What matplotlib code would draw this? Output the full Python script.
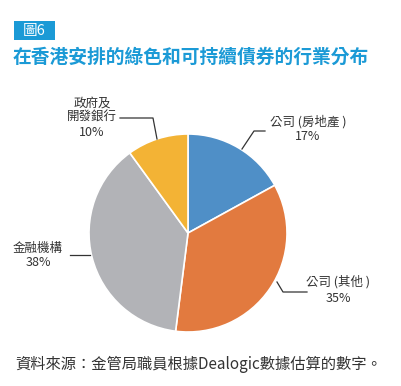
import matplotlib
matplotlib.use("Agg")
import matplotlib.pyplot as plt
from matplotlib.patches import Rectangle

plt.rcParams['font.family'] = ['Noto Sans CJK TC', 'DejaVu Sans']

categories = ["公司 (房地產 )", "公司 (其他 )", "金融機構", "政府及\n開發銀行"]
values = [17, 35, 38, 10]
colors = ["#4f8fc7", "#e27a3f", "#b2b3b7", "#f3b335"]

W, H = 401, 386
fig = plt.figure(figsize=(W / 100, H / 100), dpi=100)

# pie axes: center (188,233), radius 99 px
cx, cy, r = 188, 233, 99
ax = fig.add_axes([(cx - r) / W, (H - cy - r) / H, 2 * r / W, 2 * r / H])
ax.pie(values, colors=colors, startangle=90, counterclock=False,
       wedgeprops=dict(edgecolor="white", linewidth=1.2), radius=1)
ax.set_xlim(-1, 1)
ax.set_ylim(-1, 1)
ax.set_aspect("equal")
ax.axis("off")

# overlay in pixel coordinates
ov = fig.add_axes([0, 0, 1, 1], zorder=5)
ov.set_xlim(0, W)
ov.set_ylim(H, 0)
ov.axis("off")
ov.patch.set_alpha(0)

blue = "#1b9ad6"
ov.add_patch(Rectangle((14, 21), 41, 19, color=blue, lw=0))
ov.text(34.5, 30.5, "圖6", color="white", fontsize=10.5, ha="center", va="center")
ov.text(13, 57, "在香港安排的綠色和可持續債券的行業分布", color=blue,
        fontsize=13.5, fontweight="bold", ha="left", va="center")

lab_color = "#333333"
line_kw = dict(color="#333333", lw=0.9)
fs = 9.0

# 公司(房地產)
ov.plot([242, 254, 265], [149, 131, 131], **line_kw)
ov.text(308, 122, categories[0], fontsize=fs, ha="center", va="center", color=lab_color)
ov.text(308, 137, f"{values[0]}%", fontsize=fs, ha="center", va="center", color=lab_color)

# 公司(其他)
ov.plot([277, 283, 307], [282, 292, 292], **line_kw)
ov.text(338, 282, categories[1], fontsize=fs, ha="center", va="center", color=lab_color)
ov.text(338, 298, f"{values[1]}%", fontsize=fs, ha="center", va="center", color=lab_color)

# 金融機構
ov.plot([70, 90], [255, 255], **line_kw)
ov.text(38, 248, categories[2], fontsize=fs, ha="center", va="center", color=lab_color)
ov.text(38, 263, f"{values[2]}%", fontsize=fs, ha="center", va="center", color=lab_color)

# 政府及開發銀行
ov.plot([120, 153, 157], [118, 118, 139], **line_kw)
l1, l2 = categories[3].split("\n")
ov.text(92, 103, l1, fontsize=fs, ha="center", va="center", color=lab_color)
ov.text(92, 117, l2, fontsize=fs, ha="center", va="center", color=lab_color)
ov.text(92, 132, f"{values[3]}%", fontsize=fs, ha="center", va="center", color=lab_color)

ov.text(15, 364, "資料來源：金管局職員根據Dealogic數據估算的數字。", fontsize=11,
        ha="left", va="center", color="#333333")

fig.savefig("out.png", dpi=100)
